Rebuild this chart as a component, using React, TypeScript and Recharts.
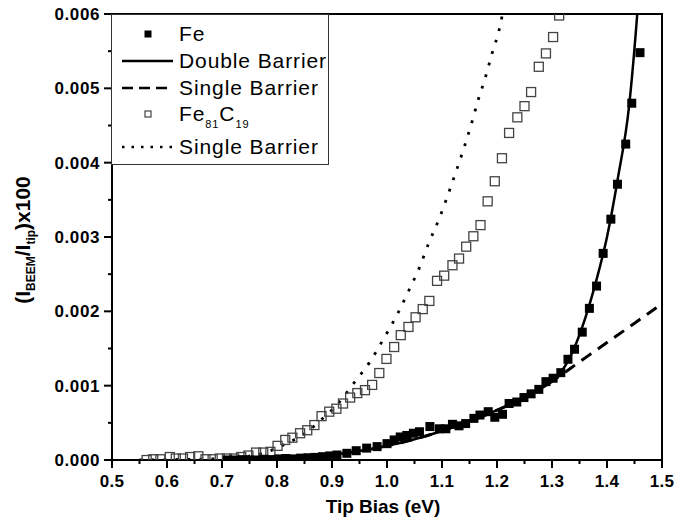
import { ComposedChart, Line, Scatter, XAxis, YAxis, ReferenceArea, Legend } from 'recharts'

// Fe measured points [bias (eV), signal]
const feData = [
  [0.71, 0.0], [0.723, 0.0], [0.737, 0.000005], [0.75, 0.0], [0.763, 0.0], [0.776, 0.00001],
  [0.79, 0.000005], [0.803, 0.000015], [0.816, 0.00002], [0.829, 0.000015], [0.843, 0.000025],
  [0.856, 0.00003], [0.869, 0.000035], [0.883, 0.000045], [0.896, 0.000055], [0.909, 0.000067],
  [0.927, 0.00009], [0.944, 0.000125], [0.963, 0.00016], [0.982, 0.00018], [1.0, 0.00022],
  [1.013, 0.00027], [1.024, 0.00031], [1.036, 0.00033], [1.048, 0.00036], [1.059, 0.00038],
  [1.078, 0.00045], [1.095, 0.00042], [1.107, 0.00042], [1.119, 0.00048], [1.131, 0.00046],
  [1.143, 0.00049], [1.158, 0.00056], [1.169, 0.000605], [1.184, 0.00065], [1.196, 0.000575],
  [1.21, 0.000615], [1.222, 0.00076], [1.236, 0.00078], [1.249, 0.00084], [1.262, 0.00089],
  [1.276, 0.00095], [1.289, 0.001054], [1.302, 0.0011], [1.316, 0.001175], [1.329, 0.001355],
  [1.341, 0.00149], [1.355, 0.00172], [1.368, 0.00204], [1.381, 0.00234], [1.393, 0.00278],
  [1.407, 0.00324], [1.419, 0.00371], [1.434, 0.00425], [1.445, 0.0048], [1.46, 0.00548],
]

// Fe81C19 measured points
const fecData = [
  [0.563, 0.0], [0.575, 0.00001], [0.588, 0.00001], [0.605, 0.00004], [0.616, 0.00002],
  [0.629, 0.00002], [0.642, 0.00004], [0.657, 0.00005], [0.67, 0.00001], [0.683, 0.00001],
  [0.696, 0.00002], [0.709, 0.00002], [0.722, 0.00002], [0.735, 0.00004], [0.748, 0.00006],
  [0.762, 0.0001], [0.775, 0.0001], [0.788, 0.00011], [0.801, 0.00019], [0.815, 0.00027],
  [0.828, 0.0003], [0.842, 0.00036], [0.855, 0.0004], [0.868, 0.00047], [0.881, 0.00059],
  [0.895, 0.00065], [0.908, 0.00069], [0.92, 0.00076], [0.933, 0.00084], [0.946, 0.0009],
  [0.96, 0.00094], [0.973, 0.00101], [0.986, 0.00117], [0.999, 0.00136], [1.013, 0.00152],
  [1.025, 0.00168], [1.039, 0.00179], [1.052, 0.00192], [1.065, 0.00203], [1.077, 0.00214],
  [1.091, 0.00241], [1.104, 0.00248], [1.119, 0.00262], [1.131, 0.00271], [1.144, 0.00287],
  [1.157, 0.00301], [1.17, 0.00316], [1.183, 0.00348], [1.196, 0.00375], [1.209, 0.00406],
  [1.222, 0.0044], [1.237, 0.00461], [1.25, 0.00476], [1.262, 0.00495], [1.276, 0.00529],
  [1.289, 0.00547], [1.302, 0.00569], [1.313, 0.00598],
]

// Fe: double barrier fit
const doubleBarrier = [
  [0.7, 0.0], [0.75, 0.000005], [0.8, 0.00002], [0.85, 0.00004], [0.9, 0.00007],
  [0.95, 0.00012], [1.0, 0.00019], [1.05, 0.00028], [1.1, 0.00039], [1.15, 0.00052],
  [1.2, 0.00067], [1.25, 0.00084], [1.28, 0.00096], [1.3, 0.00106], [1.32, 0.00122],
  [1.34, 0.0015], [1.36, 0.0019], [1.38, 0.0024], [1.4, 0.003], [1.42, 0.0038],
  [1.44, 0.00475], [1.455, 0.006], [1.46, 0.0065],
]

// Fe: single barrier fit
const singleBarrierFe = [
  [0.7, 0.0], [0.75, 0.000005], [0.8, 0.00002], [0.85, 0.00004], [0.9, 0.00007],
  [0.95, 0.00012], [1.0, 0.00019], [1.05, 0.00028], [1.1, 0.00039], [1.15, 0.00052],
  [1.2, 0.00067], [1.25, 0.00084], [1.3, 0.00106], [1.35, 0.00132], [1.4, 0.00158],
  [1.45, 0.00184], [1.49, 0.00205],
]

// Fe81C19: single barrier fit
const singleBarrierFeC = [
  [0.55, 0.0], [0.6, 0.000005], [0.65, 0.00001], [0.7, 0.00002], [0.748, 0.00005],
  [0.769, 0.00008], [0.79, 0.00013], [0.811, 0.0002], [0.833, 0.00028], [0.857, 0.00039],
  [0.877, 0.00052], [0.898, 0.00066], [0.918, 0.00082], [0.936, 0.001], [0.952, 0.00115],
  [0.968, 0.00131], [0.993, 0.00162], [1.018, 0.00195], [1.039, 0.00227], [1.059, 0.00259],
  [1.076, 0.00292], [1.094, 0.00323], [1.11, 0.00355], [1.125, 0.00387], [1.14, 0.0042],
  [1.153, 0.00451], [1.166, 0.00485], [1.179, 0.00515], [1.191, 0.00547], [1.204, 0.00579],
  [1.215, 0.0062],
]

const xTicks = [0.5, 0.55, 0.6, 0.65, 0.7, 0.75, 0.8, 0.85, 0.9, 0.95, 1.0, 1.05, 1.1, 1.15, 1.2, 1.25, 1.3, 1.35, 1.4, 1.45, 1.5]
const yTicks = [0, 0.0005, 0.001, 0.0015, 0.002, 0.0025, 0.003, 0.0035, 0.004, 0.0045, 0.005, 0.0055, 0.006]

const toPts = (arr: number[][]) => arr.map(([x, y]) => ({ x, y }))

const FONT = '"Liberation Sans", Arial, sans-serif'

function XTick(props: any) {
  const { x, y, payload } = props
  const v = payload.value
  const major = Math.abs(v * 10 - Math.round(v * 10)) < 1e-6
  return (
    <g>
      <line x1={x} x2={x} y1={y} y2={y + (major ? 8 : 4)} stroke="#000" strokeWidth={2} />
      {major && (
        <text x={x} y={y + 27} textAnchor="middle" fontFamily={FONT} fontWeight="bold" fontSize={17} letterSpacing={0.3} fill="#000">
          {v.toFixed(1)}
        </text>
      )}
    </g>
  )
}

function YTick(props: any) {
  const { x, y, payload } = props
  const v = payload.value
  const major = Math.abs(v * 1000 - Math.round(v * 1000)) < 1e-6
  return (
    <g>
      <line x1={x} x2={x - (major ? 8 : 4)} y1={y} y2={y} stroke="#000" strokeWidth={2} />
      {major && (
        <text x={x - 12} y={y + 6} textAnchor="end" fontFamily={FONT} fontWeight="bold" fontSize={17} letterSpacing={0.6} fill="#000">
          {v.toFixed(3)}
        </text>
      )}
    </g>
  )
}

function XTitle() {
  return (
    <text x={383} y={513} textAnchor="middle" fontFamily={FONT} fontWeight="bold" fontSize={19} fill="#000">
      Tip Bias (eV)
    </text>
  )
}

function YTitle() {
  return (
    <text x={30} y={240} transform="rotate(-90 30 240)" textAnchor="middle" fontFamily={FONT} fontWeight="bold" fontSize={21} fill="#000">
      (I
      <tspan fontSize={12} dy={5}>BEEM</tspan>
      <tspan dy={-5}>/I</tspan>
      <tspan fontSize={12} dy={5}>tip</tspan>
      <tspan dy={-5}>)x100</tspan>
    </text>
  )
}

function FilledSquare(props: any) {
  const { cx, cy } = props
  return <rect x={cx - 4.5} y={cy - 4.5} width={9} height={9} fill="#000" />
}

function OpenSquare(props: any) {
  const { cx, cy } = props
  return <rect x={cx - 4.5} y={cy - 4.5} width={9} height={9} fill="none" stroke="#444" strokeWidth={1.3} />
}

function LegendBox() {
  const tx = 68
  const text = { fontFamily: FONT, fontSize: 21, fill: '#000', letterSpacing: 0.9 }
  return (
    <svg width={218} height={151} style={{ display: 'block' }}>
      <rect x={0.5} y={0.5} width={217} height={150} fill="#fff" stroke="#333" strokeWidth={1} />
      <rect x={33.5} y={16.5} width={7} height={7} fill="#000" />
      <text x={tx} y={27} {...text}>Fe</text>
      <line x1={11} x2={62} y1={47} y2={47} stroke="#000" strokeWidth={2.5} />
      <text x={tx} y={54} {...text}>Double Barrier</text>
      <line x1={11} x2={62} y1={74} y2={74} stroke="#000" strokeWidth={2.5} strokeDasharray="11 6" />
      <text x={tx} y={81} {...text}>Single Barrier</text>
      <rect x={34} y={97} width={6} height={6} fill="none" stroke="#444" strokeWidth={1.2} />
      <text x={tx} y={107} {...text}>
        Fe<tspan fontSize={11} dy={7}>81</tspan>
        <tspan dy={-7}>C</tspan>
        <tspan fontSize={11} dy={7}>19</tspan>
      </text>
      <line x1={11} x2={64} y1={133} y2={133} stroke="#000" strokeWidth={2.5} strokeDasharray="2.5 7" />
      <text x={tx} y={140} {...text}>Single Barrier</text>
    </svg>
  )
}

export default function App() {
  return (
    <div style={{ margin: -8, width: 694, height: 529, background: '#fff' }}>
      <ComposedChart width={694} height={529} margin={{ top: 14, right: 32, bottom: 0, left: 0 }}>
        <XAxis
          dataKey="x"
          type="number"
          domain={[0.5, 1.5]}
          ticks={xTicks}
          interval={0}
          allowDataOverflow
          height={69}
          tickSize={0}
          tickMargin={0}
          tick={<XTick />}
          axisLine={{ stroke: '#000', strokeWidth: 2 }}
          label={<XTitle />}
        />
        <YAxis
          dataKey="y"
          type="number"
          domain={[0, 0.006]}
          ticks={yTicks}
          interval={0}
          allowDataOverflow
          width={112}
          tickSize={0}
          tickMargin={0}
          tick={<YTick />}
          axisLine={{ stroke: '#000', strokeWidth: 2 }}
          label={<YTitle />}
        />
        <ReferenceArea x1={0.5} x2={1.5} y1={0} y2={0.006} fill="none" stroke="#000" strokeWidth={2} />
        <Line data={toPts(singleBarrierFeC)} dataKey="y" type="monotone" stroke="#000" strokeWidth={2.8} strokeDasharray="2.8 9.2" dot={false} isAnimationActive={false} />
        <Line data={toPts(singleBarrierFe)} dataKey="y" type="monotone" stroke="#000" strokeWidth={3} strokeDasharray="12 8" dot={false} isAnimationActive={false} />
        <Line data={toPts(doubleBarrier)} dataKey="y" type="monotone" stroke="#000" strokeWidth={2.5} dot={false} isAnimationActive={false} />
        <Scatter data={toPts(fecData)} shape={<OpenSquare />} isAnimationActive={false} />
        <Scatter data={toPts(feData)} shape={<FilledSquare />} isAnimationActive={false} />
        <Legend
          content={<LegendBox />}
          layout="vertical"
          align="center"
          verticalAlign="middle"
          wrapperStyle={{ left: 111, top: 14, width: 218, height: 151 }}
        />
      </ComposedChart>
    </div>
  )
}
